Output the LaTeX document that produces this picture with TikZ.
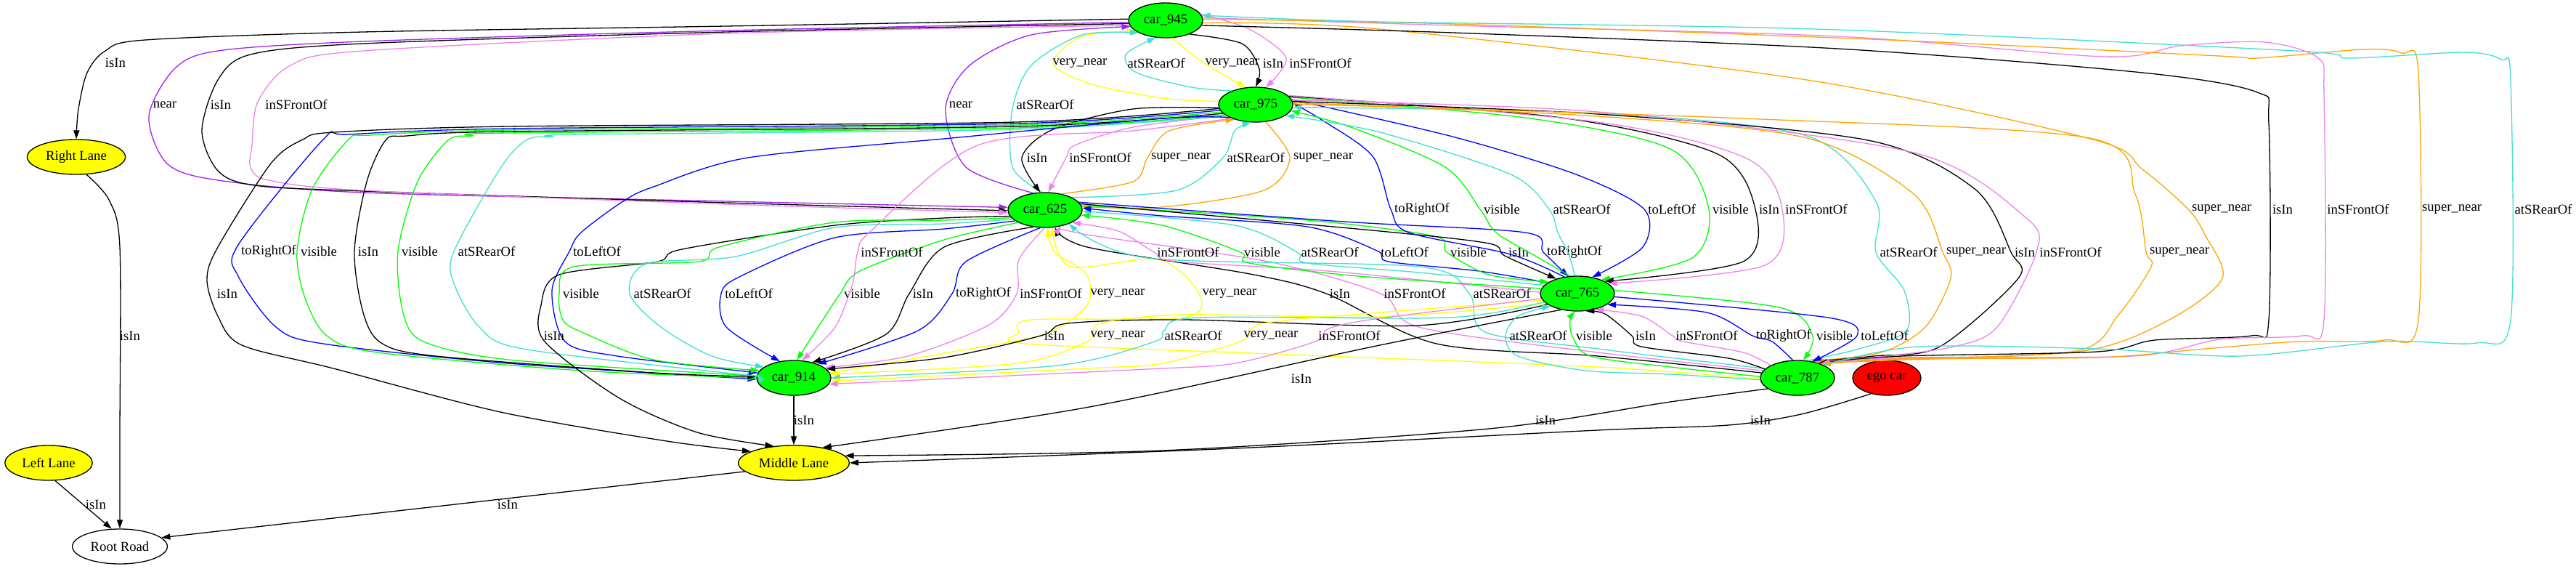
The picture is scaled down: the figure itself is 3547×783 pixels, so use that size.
\documentclass[tikz,border=0pt]{standalone}
\usepackage{fontspec}
\setmainfont{Liberation Serif}
\usetikzlibrary{shapes.geometric,arrows.meta}
\definecolor{gvgreen}{HTML}{00FF00}
\definecolor{gvyellow}{HTML}{FFFF00}
\definecolor{gvviolet}{HTML}{EE82EE}
\definecolor{gvpurple}{HTML}{A020F0}
\definecolor{gvturq}{HTML}{40E0D0}
\definecolor{gvorange}{HTML}{FFA500}
\definecolor{gvblue}{HTML}{0000FF}
\definecolor{gvred}{HTML}{FF0000}
\newcommand{\gvfont}{\fontsize{18.7}{21}\selectfont}
\begin{document}
\begin{tikzpicture}[x=1pt,y=-1pt,>={Triangle[length=12pt,width=8pt]},
		every node/.style={font=\gvfont},
		obj/.style={ellipse,draw,line width=1.3pt,inner xsep=6pt,inner ysep=2pt,minimum height=48pt},
		car/.style={obj,fill=gvgreen},
		lane/.style={obj,fill=gvyellow},
		lbl/.style={inner sep=0pt,text=black},
		rel/.style={->,line width=1.3pt},
		relisin/.style={rel,black},
		relnear/.style={rel,gvpurple},
		relfront/.style={rel,gvviolet},
		relrear/.style={rel,gvturq},
		relvnear/.style={rel,gvyellow},
		relsnear/.style={rel,gvorange},
		relright/.style={rel,gvblue},
		relleft/.style={rel,gvblue},
		relvis/.style={rel,gvgreen}]
		
		\useasboundingbox (0,0) rectangle (3547,783);
		
		\node[car] (c945) at (1605,28) {car\_945};
		\node[car] (c975) at (1729,144) {car\_975};
		\node[car] (c625) at (1439,289) {car\_625};
		\node[car] (c765) at (2172,404) {car\_765};
		\node[car] (c914) at (1093,520) {car\_914};
		\node[car] (c787) at (2475,520) {car\_787};
		\node[obj,fill=gvred] (ego) at (2598,520) {ego car};
		\node[lane] (rlane) at (105,216) {Right Lane};
		\node[lane] (llane) at (67,637) {Left Lane};
		\node[lane] (mlane) at (1093,637) {Middle Lane};
		\node[obj] (root) at (165,752) {Root Road};
		
		\draw[relisin] plot[smooth] coordinates {(c945.178) (1000,36) (500,44) (200,55) (145,70) (120,100) (108,150) (rlane.north)} node[lbl] (l1) at (159,86) {isIn};
		\draw[relnear] plot[smooth] coordinates {(c945.183) (1000,42) (500,57) (300,70) (240,95) (205,160) (230,225) (300,248) (500,265) (1000,277) (c625.176)} node[lbl] (l2) at (227,144) {near};
		\draw[relisin] plot[smooth] coordinates {(c945.185) (1000,44) (500,60) (345,75) (300,110) (278,180) (300,235) (350,255) (500,263) (1000,279) (c625.181)} node[lbl] (l3) at (304,144) {isIn};
		\draw[relfront] plot[smooth] coordinates {(c945.188) (1000,46) (500,70) (400,90) (355,140) (347,200) (345,230) (370,248) (500,262) (1000,281) (c625.184)} node[lbl] (l4) at (408,144) {inSFrontOf};
		
		\draw[relvnear] plot[smooth] coordinates {(c975.175) (1600,135) (1500,115) (1450,87) (1490,50) (c945.200)} node[lbl] (l5) at (1487,87) {very\_near};
		\draw[relrear] plot[smooth] coordinates {(c975.150) (1640,120) (1565,100) (1550,75) (c945.240)} node[lbl] (l6) at (1592,87) {atSRearOf};
		\draw[relvnear] plot[smooth] coordinates {(c945.290) (1655,85) (c975.120)} node[lbl] (l7) at (1697,87) {very\_near};
		\draw[relisin] plot[smooth] coordinates {(c945.330) (1710,60) (1734,95) (c975.90)} node[lbl] (l8) at (1753,87) {isIn};
		\draw[relfront] plot[smooth] coordinates {(c945.10) (1720,40) (1771,80) (c975.60)} node[lbl] (l9) at (1818,87) {inSFrontOf};
		
		\draw[relnear] plot[smooth] coordinates {(c625.125) (1330,230) (1302,150) (1335,90) (1420,48) (c945.190)} node[lbl] (l10) at (1323,144) {near};
		\draw[relrear] plot[smooth] coordinates {(c625.100) (1394,230) (1394,150) (1420,90) (1490,48) (c945.205)} node[lbl] (l11) at (1439,144) {atSRearOf};
		
		\draw[relisin] plot[smooth] coordinates {(c975.185) (1560,150) (1450,178) (1407,217) (c625.105)} node[lbl] (l12) at (1428,217) {isIn};
		\draw[relfront] plot[smooth] coordinates {(c975.200) (1560,175) (1480,200) (1468,217) (c625.80)} node[lbl] (l13) at (1515,217) {inSFrontOf};
		\draw[relsnear] plot[smooth] coordinates {(c625.45) (1560,250) (1580,217) (1610,180) (c975.215)} node[lbl] (l14) at (1626,217) {super\_near};
		\draw[relrear] plot[smooth] coordinates {(c625.25) (1620,262) (1684,217) (1700,180) (c975.255)} node[lbl] (l15) at (1729,217) {atSRearOf};
		\draw[relsnear] plot[smooth] coordinates {(c975.300) (1776,217) (1740,262) (1600,285) (c625.5)} node[lbl] (l16) at (1822,217) {super\_near};
		
		\draw[relright] plot[smooth] coordinates {(c975.189) (1400,170) (700,177) (480,185) (445,192) (328,337) (328,380) (380,450) (445,473) (700,500) (c914.182)} node[lbl] (l17) at (370,346) {toRightOf};
		\draw[relvis] plot[smooth] coordinates {(c975.192) (1400,172) (700,179) (510,186) (480,192) (430,260) (409,346) (420,410) (450,462) (520,485) (800,510) (c914.180)} node[lbl] (l18) at (439,346) {visible};
		\draw[relisin] plot[smooth] coordinates {(c975.195) (1400,174) (700,181) (560,187) (531,193) (505,250) (488,346) (500,430) (525,472) (600,490) (900,513) (c914.178)} node[lbl] (l19) at (507,346) {isIn};
		\draw[relvis] plot[smooth] coordinates {(c975.198) (1400,176) (700,183) (650,187) (617,193) (575,250) (548,346) (555,430) (583,470) (700,495) (1000,515) (c914.176)} node[lbl] (l20) at (578,346) {visible};
		\draw[relrear] plot[smooth] coordinates {(c975.201) (1400,178) (800,185) (760,188) (726,192) (690,230) (625,346) (625,390) (660,450) (720,480) (1000,513) (c914.174)} node[lbl] (l21) at (670,346) {atSRearOf};
		\draw[relleft] plot[smooth] coordinates {(c975.206) (1600,163) (1310,190) (1030,217) (900,257) (858,277) (800,320) (784,346) (760,400) (778,470) (850,490) (c914.172)} node[lbl] (l22) at (822,346) {toLeftOf};
		\draw[relisin] plot[smooth] coordinates {(c975.186) (1400,168) (700,174) (460,182) (417,192) (373,225) (300,340) (285,385) (300,435) (333,475) (459,507) (689,567) (918,607) (mlane.165)} node[lbl] (l23) at (313,404) {isIn};
		
		\draw[relisin] plot[smooth] coordinates {(c625.190) (1300,300) (1150,310) (939,343) (905,360) (770,378) (745,420) (750,470) (853,548) (960,595) (mlane.140)} node[lbl] (l24) at (763,462) {isIn};
		\draw[relvis] plot[smooth] coordinates {(c625.193) (1300,303) (1150,306) (990,340) (962,360) (790,367) (770,404) (775,440) (801,457) (900,495) (c914.168)} node[lbl] (l25) at (800,404) {visible};
		\draw[relrear] plot[smooth] coordinates {(c625.196) (1300,308) (1150,313) (1013,353) (890,363) (867,404) (910,450) (980,490) (c914.160)} node[lbl] (l26) at (912,404) {atSRearOf};
		\draw[relleft] plot[smooth] coordinates {(c625.200) (1300,315) (1150,327) (1020,380) (993,404) (1000,450) (c914.130)} node[lbl] (l27) at (1031,404) {toLeftOf};
		
		\draw[relvis] plot[smooth] coordinates {(c625.205) (1300,330) (1184,373) (1157,404) (1135,437) (c914.80)} node[lbl] (l28) at (1187,404) {visible};
		\draw[relfront] plot[smooth] coordinates {(c975.210) (1560,180) (1346,200) (1200,317) (1181,347) (1174,390) (1150,450) (c914.65)} node[lbl] (l29) at (1228,347) {inSFrontOf};
		\draw[relisin] plot[smooth] coordinates {(c625.235) (1300,340) (1252,404) (1220,460) (c914.40)} node[lbl] (l30) at (1271,404) {isIn};
		\draw[relright] plot[smooth] coordinates {(c625.255) (1330,360) (1311,404) (1264,455) (c914.30)} node[lbl] (l31) at (1354,404) {toRightOf};
		\draw[relfront] plot[smooth] coordinates {(c625.268) (1403,357) (1400,404) (1362,447) (1250,490) (c914.18)} node[lbl] (l32) at (1447,404) {inSFrontOf};
		
		\draw[relvnear] plot[smooth] coordinates {(c914.8) (1318,483) (1438,460) (1497,420) (1496,377) (1452,347) (c625.278)} node[lbl] (l33) at (1539,404) {very\_near};
		\draw[relvnear] plot[smooth] coordinates {(c787.182) (2200,505) (1750,487) (1412,473) (1403,458) (1420,440) (1630,437) (1651,404) (1595,357) (1474,367) (c625.292)} node[lbl] (l34) at (1693,404) {very\_near};
		\draw[relisin] plot[smooth] coordinates {(c787.172) (2200,490) (1978,473) (1826,404) (1721,377) (1497,340) (c625.300)} node[lbl] (l35) at (1845,404) {isIn};
		\draw[relfront] plot[smooth] coordinates {(c787.168) (2200,485) (1953,450) (1901,404) (1746,360) (1497,323) (c625.315)} node[lbl] (l36) at (1948,404) {inSFrontOf};
		\draw[relrear] plot[smooth] coordinates {(c787.164) (2200,480) (2045,457) (2023,404) (1954,367) (1580,355) (c625.330)} node[lbl] (l37) at (2068,404) {atSRearOf};
		
		\draw[relisin] plot[smooth] coordinates {(c765.200) (1950,448) (1630,440) (1470,445) (1433,462) (1300,492) (c914.15)} node[lbl] (l39) at (1452,462) {isIn};
		\draw[relvnear] plot[smooth] coordinates {(c765.197) (1900,436) (1630,433) (1515,445) (1497,470) (1400,500) (c914.6)} node[lbl] (l40) at (1539,462) {very\_near};
		\draw[relrear] plot[smooth] coordinates {(c765.194) (1995,437) (1650,437) (1603,455) (1590,470) (1456,503) (c914.0)} node[lbl] (l41) at (1643,462) {atSRearOf};
		\draw[relvnear] plot[smooth] coordinates {(c765.191) (1900,430) (1740,445) (1708,470) (1600,500) (1497,507) (c914.355)} node[lbl] (l42) at (1750,462) {very\_near};
		\draw[relfront] plot[smooth] coordinates {(c765.188) (1900,438) (1830,452) (1811,470) (1700,500) (1580,508) (c914.350)} node[lbl] (l43) at (1858,462) {inSFrontOf};
		
		\draw[relisin] plot[smooth] coordinates {(c765.225) (1900,475) (1500,560) (mlane.28)} node[lbl] (l44) at (1792,521) {isIn};
		\draw[relisin] plot[smooth] coordinates {(c787.200) (2300,553) (2050,590) (1600,620) (mlane.8)} node[lbl] (l45) at (2128,578) {isIn};
		\draw[relisin] plot[smooth] coordinates {(ego.225) (2480,570) (2380,585) (2200,592) (1700,617) (mlane.0)} node[lbl] (l46) at (2424,578) {isIn};
		\draw[relisin] (c914) -- (mlane) node[lbl] (l47) at (1107,578) {isIn};
		\draw[relisin] (mlane.190) -- (root.12) node[lbl] (l48) at (699,694) {isIn};
		\draw[relisin] (llane.290) -- (root.115) node[lbl] (l49) at (132,694) {isIn};
		\draw[relisin] plot[smooth] coordinates {(rlane.300) (150,275) (165,340) (165,600) (root.north)} node[lbl] (l50) at (179,462) {isIn};
		
		\draw[relfront] plot[smooth] coordinates {(c765.178) (1829,373) (1620,360) (1589,347) (1540,318) (c625.335)} node[lbl] (l51) at (1636,347) {inSFrontOf};
		\draw[relvis] plot[smooth] coordinates {(c765.172) (1871,380) (1720,362) (1708,347) (1600,310) (c625.352)} node[lbl] (l52) at (1738,347) {visible};
		\draw[relrear] plot[smooth] coordinates {(c765.166) (1954,375) (1800,362) (1786,347) (1700,310) (c625.358)} node[lbl] (l53) at (1831,347) {atSRearOf};
		\draw[relleft] plot[smooth] coordinates {(c765.160) (2036,373) (1912,360) (1896,345) (1800,312) (1600,297) (c625.3)} node[lbl] (l54) at (1934,347) {toLeftOf};
		\draw[relvis] plot[smooth] coordinates {(c625.7) (1800,303) (1975,325) (1992,347) (2050,378) (c765.158)} node[lbl] (l55) at (2022,347) {visible};
		\draw[relisin] plot[smooth] coordinates {(c625.10) (1900,318) (2050,335) (2072,352) (c765.145)} node[lbl] (l56) at (2091,347) {isIn};
		\draw[relright] plot[smooth] coordinates {(c625.13) (1850,305) (2100,320) (2125,347) (c765.118)} node[lbl] (l57) at (2168,347) {toRightOf};
		
		\draw[relright] plot[smooth] coordinates {(c765.128) (2080,350) (1940,320) (1915,288) (1890,215) (1820,165) (c975.2)} node[lbl] (l58) at (1958,288) {toRightOf};
		\draw[relvis] plot[smooth] coordinates {(c765.112) (2110,350) (2060,320) (2038,288) (1990,230) (1860,175) (c975.350)} node[lbl] (l59) at (2068,288) {visible};
		\draw[relrear] plot[smooth] coordinates {(c765.98) (2160,350) (2145,320) (2133,288) (2080,240) (1900,182) (c975.340)} node[lbl] (l60) at (2178,288) {atSRearOf};
		\draw[relleft] plot[smooth] coordinates {(c975.8) (2000,188) (2170,240) (2264,288) (2262,340) (c765.48)} node[lbl] (l61) at (2302,288) {toLeftOf};
		\draw[relvis] plot[smooth] coordinates {(c975.12) (2100,162) (2300,205) (2353,288) (2330,355) (c765.30)} node[lbl] (l62) at (2383,288) {visible};
		\draw[relisin] plot[smooth] coordinates {(c975.14) (2150,162) (2365,212) (2417,288) (2400,360) (c765.24)} node[lbl] (l63) at (2436,288) {isIn};
		\draw[relfront] plot[smooth] coordinates {(c975.16) (2200,168) (2405,218) (2454,288) (2430,365) (c765.18)} node[lbl] (l64) at (2501,288) {inSFrontOf};
		
		\draw[relrear] plot[smooth] coordinates {(c787.60) (2560,480) (2625,455) (2622,400) (2583,347) (2583,277) (2488,187) (2200,156) (c975.356)} node[lbl] (l65) at (2628,347) {atSRearOf};
		\draw[relsnear] plot[smooth] coordinates {(c975.3) (2200,160) (2488,190) (2635,267) (2675,347) (2686,383) (2651,450) (2590,485) (c787.52)} node[lbl] (l66) at (2721,347) {super\_near};
		\draw[relisin] plot[smooth] coordinates {(c975.5) (2200,157) (2572,193) (2719,260) (2769,347) (2779,383) (2671,477) (2580,490) (c787.47)} node[lbl] (l67) at (2788,347) {isIn};
		\draw[relfront] plot[smooth] coordinates {(c975.7) (2200,154) (2635,210) (2790,300) (2804,347) (2750,450) (2690,477) (2580,492) (c787.44)} node[lbl] (l68) at (2851,347) {inSFrontOf};
		\draw[relsnear] plot[smooth] coordinates {(c975.1) (2400,163) (2877,190) (2940,267) (2955,347) (2962,367) (2917,433) (2858,483) (2600,494) (c787.41)} node[lbl] (l69) at (3001,347) {super\_near};
		
		\draw[relsnear] plot[smooth] coordinates {(c945.356) (1900,40) (2488,110) (2882,192) (2950,233) (3013,288) (3036,323) (3060,383) (2987,440) (2868,483) (2600,496) (c787.38)} node[lbl] (l70) at (3059,288) {super\_near};
		\draw[relisin] plot[smooth] coordinates {(c945.352) (2000,45) (2530,67) (2950,100) (3108,127) (3124,170) (3124,440) (3100,462) (2967,468) (2888,484) (2620,490) (c787.35)} node[lbl] (l71) at (3143,288) {isIn};
		\draw[relfront] plot[smooth] coordinates {(c945.4) (2000,35) (2530,50) (2898,78) (3003,63) (3118,58) (3192,80) (3200,133) (3200,440) (3170,462) (3056,467) (2937,490) (2620,492) (c787.32)} node[lbl] (l72) at (3247,288) {inSFrontOf};
		\draw[relsnear] plot[smooth] coordinates {(c945.2) (2000,33) (2600,55) (3055,77) (3108,80) (3255,68) (3307,73) (3330,100) (3330,440) (3283,468) (3164,470) (3036,480) (2888,492) (2620,494) (c787.29)} node[lbl] (l73) at (3376,288) {super\_near};
		\draw[relrear] plot[smooth] coordinates {(c787.26) (2641,477) (2888,480) (3085,490) (3283,470) (3410,472) (3457,440) (3457,110) (3444,82) (3392,72) (3234,80) (3160,70) (2500,40) (1900,30) (c945.8)} node[lbl] (l74) at (3502,288) {atSRearOf};
		
		\draw[relrear] plot[smooth] coordinates {(c787.183) (2300,515) (2183,510) (2090,490) (2073,462) (2090,435) (c765.205)} node[lbl] (l75) at (2118,462) {atSRearOf};
		\draw[relvis] plot[smooth] coordinates {(c787.178) (2300,505) (2190,490) (2165,462) (2162,440) (c765.262)} node[lbl] (l76) at (2195,462) {visible};
		\draw[relisin] plot[smooth] coordinates {(c787.165) (2380,493) (2260,477) (2247,462) (2210,432) (c765.295)} node[lbl] (l77) at (2266,462) {isIn};
		\draw[relfront] plot[smooth] coordinates {(c787.155) (2400,485) (2318,470) (2303,462) (2260,435) (c765.318)} node[lbl] (l78) at (2350,462) {inSFrontOf};
		\draw[relright] plot[smooth] coordinates {(c787.105) (2440,470) (2413,462) (2350,430) (c765.340)} node[lbl] (l79) at (2456,462) {toRightOf};
		\draw[relvis] plot[smooth] coordinates {(c765.5) (2450,423) (2496,462) (c787.72)} node[lbl] (l80) at (2526,462) {visible};
		\draw[relleft] plot[smooth] coordinates {(c765.355) (2517,437) (2557,462) (c787.48)} node[lbl] (l81) at (2595,462) {toLeftOf};
\end{tikzpicture}
\end{document}
